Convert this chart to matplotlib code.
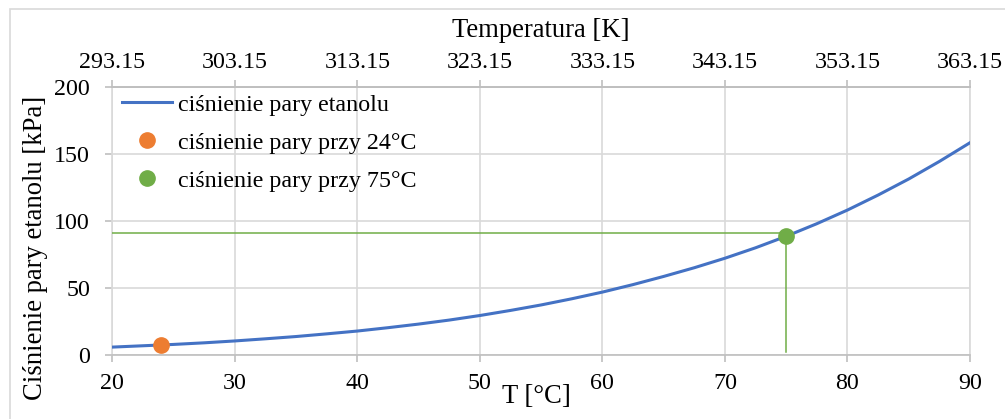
import matplotlib.pyplot as plt
from matplotlib.patches import Rectangle

plt.rcParams['font.family'] = ['Liberation Serif', 'DejaVu Serif']

# vapour pressure of ethanol
temp_c = [20, 22.5, 25, 27.5, 30, 32.5, 35, 37.5, 40, 42.5, 45, 47.5, 50, 52.5, 55,
          57.5, 60, 62.5, 65, 67.5, 70, 72.5, 75, 77.5, 80, 82.5, 85, 87.5, 90]
pressure_kpa = [5.9, 6.9, 7.9, 9.1, 10.5, 12.1, 13.8, 15.8, 17.9, 20.4, 23.1, 26.1, 29.5, 33.3, 37.4,
                42.0, 47.0, 52.6, 58.7, 65.2, 72.3, 80.1, 88.7, 98.1, 108.3, 119.5, 131.5, 144.6, 158.6]

point24_t = [24]
point24_p = [7.6]
point75_t = [75]
point75_p = [88.9]

# guide lines at 75 C
guide_level = 91.4
guide_bottom = 2.5

x_ticks = [20, 30, 40, 50, 60, 70, 80, 90]
k_labels = ['293.15', '303.15', '313.15', '323.15', '333.15', '343.15', '353.15', '363.15']
y_ticks = [0, 50, 100, 150, 200]

labels = ['ciśnienie pary etanolu', 'ciśnienie pary przy 24°C', 'ciśnienie pary przy 75°C']

blue = '#4472C4'
orange = '#ED7D31'
green = '#70AD47'
grid_c = '#D9D9D9'
axis_c = '#BFBFBF'
fs = 17.3
title_fs = 19.2

fig = plt.figure(figsize=(10.05, 4.19), dpi=100)
W, H = 1005, 419
fig.patches.append(Rectangle((9.5 / W, -0.1), 1.2, (H - 9.5) / H + 0.1, transform=fig.transFigure,
                             fill=False, edgecolor='#D9D9D9', linewidth=1.2))

ax = fig.add_axes([112.3 / W, 1 - 355 / H, 857.7 / W, 267.7 / H])

ax.plot(temp_c, pressure_kpa, color=blue, lw=2.2, label=labels[0], zorder=3)
ax.plot([x_ticks[0], point75_t[0]], [guide_level, guide_level], color=green, lw=1.1, zorder=3)
ax.plot([point75_t[0], point75_t[0]], [guide_level, guide_bottom], color=green, lw=1.1, zorder=3)
ax.plot(point24_t, point24_p, 'o', color=orange, ms=11, label=labels[1], zorder=4)
ax.plot(point75_t, point75_p, 'o', color=green, ms=11, label=labels[2], zorder=4)

ax.set_xlim(20, 90)
ax.set_ylim(0, 200)
ax.set_xticks(x_ticks)
ax.set_yticks(y_ticks)
ax.grid(True, color=grid_c, lw=1.2, zorder=0)
ax.set_axisbelow(True)
for side in ['left', 'right']:
    ax.spines[side].set_color(grid_c)
    ax.spines[side].set_linewidth(1.2)
for side in ['top', 'bottom']:
    ax.spines[side].set_color(axis_c)
    ax.spines[side].set_linewidth(1.2)
ax.tick_params(axis='both', direction='out', length=5, width=1.2, color=axis_c,
               labelsize=fs, pad=8)
ax.tick_params(axis='y', pad=11)

ax.set_xlabel('T [°C]', fontsize=title_fs)
ax.xaxis.set_label_coords((536 - 112.3) / 857.7, (355 - 396) / 267.7)
ax.xaxis.label.set_va('center')
ax.set_ylabel('Ciśnienie pary etanolu [kPa]', fontsize=title_fs)
ax.yaxis.set_label_coords((35 - 112.3) / 857.7, (355 - 248) / 267.7)
ax.yaxis.label.set_va('center')

top = ax.twiny()
top.set_xlim(ax.get_xlim())
top.set_xticks(x_ticks)
top.set_xticklabels(k_labels)
top.tick_params(axis='x', direction='out', length=5, width=1.2, color=axis_c, labelsize=fs, pad=5)
for side in ['left', 'right', 'bottom']:
    top.spines[side].set_visible(False)
top.spines['top'].set_color(axis_c)
top.spines['top'].set_linewidth(1.2)
top.set_xlabel('Temperatura [K]', fontsize=title_fs)
top.xaxis.set_label_coords((541 - 112.3) / 857.7, (355 - 30) / 267.7)
top.xaxis.label.set_va('center')

ax.legend(loc='upper left', frameon=False, fontsize=fs, handlelength=2.1, handletextpad=0.25,
          labelspacing=0.68, borderpad=0.0, borderaxespad=0.4, bbox_to_anchor=(0.0, 1.012))

fig.savefig('out.png', dpi=100)
